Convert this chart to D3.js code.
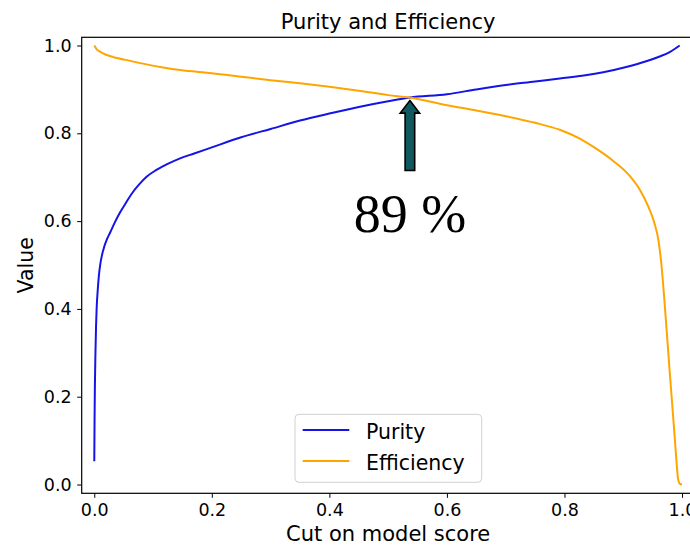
<!DOCTYPE html>
<html>
<head>
<meta charset="utf-8">
<script src="https://cdn.jsdelivr.net/npm/d3@7"></script>
<style>
  html, body { margin: 0; padding: 0; background: #fff; }
  svg { display: block; }
  text { font-family: "DejaVu Sans", sans-serif; fill: #000; }
</style>
</head>
<body>
<svg id="chart" width="690" height="546"></svg>
<script>
// ---------------- data ----------------
const purityScores = [0, 0.0005, 0.001, 0.002, 0.003, 0.004, 0.006, 0.008, 0.01, 0.013, 0.017, 0.022, 0.027, 0.035, 0.044, 0.054, 0.064, 0.076, 0.089, 0.105, 0.123, 0.146, 0.17, 0.2, 0.25, 0.3, 0.35, 0.4, 0.45, 0.5, 0.537, 0.6, 0.65, 0.7, 0.75, 0.792, 0.83, 0.866, 0.905, 0.939, 0.962, 0.979, 0.996];
const purityValues = [0.053, 0.15, 0.22, 0.30, 0.36, 0.40, 0.445, 0.478, 0.50, 0.522, 0.542, 0.56, 0.574, 0.597, 0.62, 0.642, 0.663, 0.683, 0.701, 0.716, 0.729, 0.743, 0.754, 0.768, 0.791, 0.81, 0.829, 0.845, 0.86, 0.873, 0.8815, 0.889, 0.90, 0.91, 0.918, 0.925, 0.931, 0.939, 0.951, 0.964, 0.975, 0.985, 1.0];

const efficiencyScores = [0, 0.005, 0.0097, 0.02, 0.032, 0.061, 0.089, 0.117, 0.146, 0.2, 0.25, 0.3, 0.35, 0.4, 0.45, 0.5, 0.537, 0.6, 0.65, 0.7, 0.75, 0.792, 0.826, 0.854, 0.883, 0.911, 0.928, 0.942, 0.952, 0.96, 0.965, 0.97, 0.975, 0.98, 0.984, 0.988, 0.991, 0.993, 0.996, 1.0];
const efficiencyValues = [1.0, 0.99, 0.986, 0.979, 0.974, 0.965, 0.957, 0.95, 0.944, 0.937, 0.929, 0.921, 0.914, 0.906, 0.897, 0.887, 0.8815, 0.864, 0.852, 0.839, 0.824, 0.808, 0.788, 0.765, 0.737, 0.703, 0.672, 0.635, 0.60, 0.555, 0.50, 0.42, 0.33, 0.24, 0.17, 0.10, 0.045, 0.015, 0.002, 0.0];

const xTicks = [0.0, 0.2, 0.4, 0.6, 0.8, 1.0];
const yTicks = [0.0, 0.2, 0.4, 0.6, 0.8, 1.0];
const seriesNames = ["Purity", "Efficiency"];
const seriesColors = ["#1414e6", "#ffa500"];
const crossing = { score: 0.537, value: 0.8815, label: "89 %" };
const titleText = "Purity and Efficiency";
const xLabel = "Cut on model score";
const yLabel = "Value";

// ---------------- layout ----------------
const svg = d3.select("#chart");
const plot = { left: 81.7, top: 37.3, right: 694.6, bottom: 493.3 };

const x = d3.scaleLinear().domain([-0.0214, 1.0214]).range([plot.left, plot.right]);
const y = d3.scaleLinear().domain([-0.02, 1.0187]).range([plot.bottom, plot.top]);

svg.append("defs").append("clipPath").attr("id", "clip")
  .append("rect")
  .attr("x", plot.left).attr("y", plot.top)
  .attr("width", plot.right - plot.left).attr("height", plot.bottom - plot.top);

// axes
const xAxis = d3.axisBottom(x).tickValues(xTicks).tickFormat(d3.format(".1f")).tickSize(4.5).tickPadding(6);
const yAxis = d3.axisLeft(y).tickValues(yTicks).tickFormat(d3.format(".1f")).tickSize(4.5).tickPadding(5.5);

const gx = svg.append("g").attr("transform", `translate(0,${plot.bottom})`).call(xAxis);
const gy = svg.append("g").attr("transform", `translate(${plot.left},0)`).call(yAxis);
[gx, gy].forEach(g => {
  g.select(".domain").remove();
  g.selectAll(".tick line").attr("stroke", "#000").attr("stroke-width", 1);
  g.selectAll(".tick text").style("font-family", "DejaVu Sans, sans-serif").style("font-size", "17.5px").attr("fill", "#111");
});
gx.selectAll(".tick text").attr("dy", "0.71em");

// lines
const lineGen = d3.line().x(d => x(d[0])).y(d => y(d[1])).curve(d3.curveMonotoneX);
const purityData = purityScores.map((s, i) => [s, purityValues[i]]);
const efficiencyData = efficiencyScores.map((s, i) => [s, efficiencyValues[i]]);

const lines = svg.append("g").attr("clip-path", "url(#clip)");
lines.append("path").datum(purityData)
  .attr("d", lineGen).attr("fill", "none")
  .attr("stroke", seriesColors[0]).attr("stroke-width", 2).attr("stroke-linejoin", "round");
lines.append("path").datum(efficiencyData)
  .attr("d", lineGen).attr("fill", "none")
  .attr("stroke", seriesColors[1]).attr("stroke-width", 2).attr("stroke-linejoin", "round");

// spines
svg.append("rect")
  .attr("x", plot.left).attr("y", plot.top)
  .attr("width", plot.right - plot.left).attr("height", plot.bottom - plot.top)
  .attr("fill", "none").attr("stroke", "#000").attr("stroke-width", 1.2);

// title and axis labels
svg.append("text").attr("x", (plot.left + plot.right) / 2).attr("y", 29)
  .attr("text-anchor", "middle").style("font-size", "21px").text(titleText);
svg.append("text").attr("x", (plot.left + plot.right) / 2).attr("y", 541)
  .attr("text-anchor", "middle").style("font-size", "21px").text(xLabel);
svg.append("text")
  .attr("transform", `translate(33,${(plot.top + plot.bottom) / 2}) rotate(-90)`)
  .attr("text-anchor", "middle").style("font-size", "20.5px").text(yLabel);

// annotation arrow
const ax = x(crossing.score), ay = y(crossing.value) + 3;
const shaftW = 9.6, headW = 19.4, headH = 12.6, arrowLen = 70;
const arrowPts = [
  [ax, ay],
  [ax + headW / 2, ay + headH],
  [ax + shaftW / 2, ay + headH],
  [ax + shaftW / 2, ay + arrowLen],
  [ax - shaftW / 2, ay + arrowLen],
  [ax - shaftW / 2, ay + headH],
  [ax - headW / 2, ay + headH]
];
svg.append("polygon")
  .attr("points", arrowPts.map(p => p.join(",")).join(" "))
  .attr("fill", "#10595f").attr("stroke", "#000").attr("stroke-width", 1.6)
  .attr("stroke-linejoin", "miter");

svg.append("text")
  .attr("x", ax).attr("y", ay + 131)
  .attr("text-anchor", "middle")
  .style("font-family", "'Liberation Serif', 'DejaVu Serif', serif")
  .style("font-size", "54px")
  .text(crossing.label);

// legend
const lg = svg.append("g");
lg.append("rect").attr("x", 295).attr("y", 414.3).attr("width", 186.7).attr("height", 68)
  .attr("rx", 4).attr("fill", "#fff").attr("fill-opacity", 0.85)
  .attr("stroke", "#d0d0d0").attr("stroke-width", 1);
seriesNames.forEach((name, i) => {
  const ly = 430 + i * 31;
  lg.append("line").attr("x1", 302.7).attr("x2", 349.3).attr("y1", ly).attr("y2", ly)
    .attr("stroke", seriesColors[i]).attr("stroke-width", 2);
  lg.append("text").attr("x", 366).attr("y", ly + 8.5)
    .style("font-size", "20.5px").text(name);
});
</script>
</body>
</html>
